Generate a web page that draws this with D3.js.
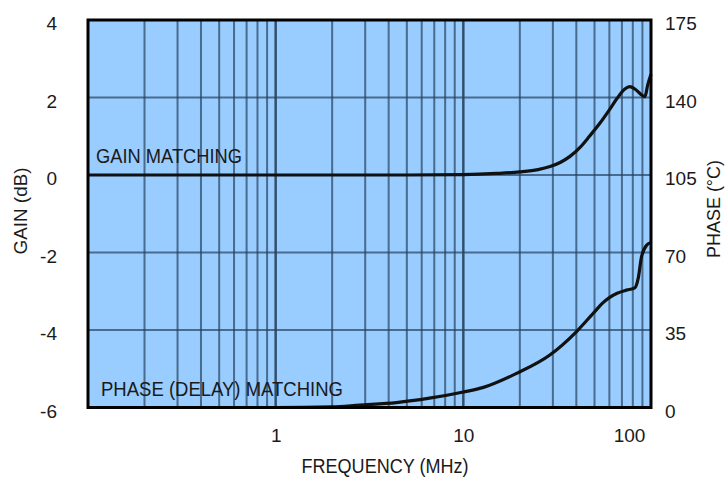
<!DOCTYPE html>
<html>
<head>
<meta charset="utf-8">
<script src="https://cdn.jsdelivr.net/npm/d3@7"></script>
<style>
  body { margin: 0; background: #fff; }
  text { font-family: "Liberation Sans", Arial, sans-serif; fill: #1a1a1a; }
</style>
</head>
<body>
<svg id="chart" width="727" height="478"></svg>
<script>
// values
const gainFreq = [0.1, 5, 10, 15, 20, 25, 29, 33, 37, 42, 47, 53.5, 60, 66, 72.5, 77, 82, 87.5, 92.8, 96, 100]
const gainDb   = [0, 0, 0.01, 0.04, 0.08, 0.14, 0.22, 0.33, 0.48, 0.72, 1.0, 1.34, 1.68, 1.98, 2.22, 2.28, 2.22, 2.1, 2.02, 2.32, 2.6]

const phaseFreq = [0.1, 1, 2, 2.8, 4.4, 6.6, 10, 12.8, 19.2, 28.9, 40, 51, 55, 60, 66, 74, 82, 85.5, 89, 95, 100]
const phaseDeg  = [0, 0, 0.3, 1.1, 2.2, 4.2, 7, 9.1, 15.4, 23.7, 34.2, 44, 47, 49.6, 51.6, 53, 54, 58.4, 68, 73.4, 74.5]

const gainTicks  = [-6, -4, -2, 0, 2, 4]
const phaseTicks = [0, 35, 70, 105, 140, 175]
const freqTicks  = [1, 10, 100]
const gainGrid   = [-4, -2, 0, 2]

let margin = {left: 88, top: 20, right: 76, bottom: 70.5}
let width = 727 - margin.left - margin.right
let height = 478 - margin.top - margin.bottom

let svg = d3.select('#chart')
let g = svg.append('g').attr('transform', 'translate(' + margin.left + ',' + margin.top + ')')

let x = d3.scaleLog().domain([0.1, 100]).range([0, width])
let yGain = d3.scaleLinear().domain([-6, 4]).range([height, 0])
let yPhase = d3.scaleLinear().domain([0, 175]).range([height, 0])

g.append('rect')
  .attr('width', width)
  .attr('height', height)
  .attr('fill', '#99ccff')

// vertical grid, 1..9 per decade
let vgrid = x.ticks().filter(d => d > 0.1 && d < 100)
g.selectAll('.vgrid')
  .data(vgrid)
  .enter().append('line')
  .attr('class', 'vgrid')
  .attr('x1', d => x(d)).attr('x2', d => x(d))
  .attr('y1', 0).attr('y2', height)
  .attr('stroke', '#27425c')
  .attr('stroke-opacity', d => (d === 1 || d === 10) ? 0.9 : 0.7)
  .attr('stroke-width', d => (d === 1 || d === 10) ? 2.5 : 2)

g.selectAll('.hgrid')
  .data(gainGrid)
  .enter().append('line')
  .attr('class', 'hgrid')
  .attr('x1', 0).attr('x2', width)
  .attr('y1', d => yGain(d)).attr('y2', d => yGain(d))
  .attr('stroke', '#27425c')
  .attr('stroke-opacity', 0.7)
  .attr('stroke-width', 2)

let gainLine = d3.line()
  .x((d, i) => x(gainFreq[i]))
  .y(d => yGain(d))
  .curve(d3.curveMonotoneX)

let phaseLine = d3.line()
  .x((d, i) => x(phaseFreq[i]))
  .y(d => yPhase(d))
  .curve(d3.curveMonotoneX)

g.append('path')
  .attr('d', gainLine(gainDb))
  .attr('fill', 'none')
  .attr('stroke', '#111')
  .attr('stroke-width', 3.2)

g.append('path')
  .attr('d', phaseLine(phaseDeg))
  .attr('fill', 'none')
  .attr('stroke', '#111')
  .attr('stroke-width', 3.2)

// frame
g.append('rect')
  .attr('width', width)
  .attr('height', height)
  .attr('fill', 'none')
  .attr('stroke', '#000')
  .attr('stroke-width', 3)

// axes (plain hyphen for negatives, as in the original)
let left = g.append('g')
  .call(d3.axisLeft(yGain).tickValues(gainTicks).tickFormat(d => String(d)).tickSize(0).tickPadding(31))
left.select('.domain').remove()
left.selectAll('text').attr('dy', '0.5em').style('font-size', '19px')

let right = g.append('g')
  .attr('transform', 'translate(' + width + ',0)')
  .call(d3.axisRight(yPhase).tickValues(phaseTicks).tickSize(0).tickPadding(14))
right.select('.domain').remove()
right.selectAll('text').attr('dy', '0.5em').style('font-size', '19px')

let bottom = g.append('g')
  .attr('transform', 'translate(0,' + height + ')')
  .call(d3.axisBottom(x).tickValues(freqTicks).tickFormat(d3.format('d')).tickSize(0).tickPadding(21))
bottom.select('.domain').remove()
bottom.selectAll('text').style('font-size', '19px')
  .attr('dx', d => d === 100 ? -22 : 0)

// titles
svg.append('text')
  .attr('x', 385).attr('y', 473)
  .attr('text-anchor', 'middle')
  .attr('textLength', 167)
  .attr('lengthAdjust', 'spacingAndGlyphs')
  .style('font-size', '20px')
  .text('FREQUENCY (MHz)')

svg.append('text')
  .attr('transform', 'translate(27,211) rotate(-90)')
  .attr('text-anchor', 'middle')
  .attr('textLength', 87)
  .attr('lengthAdjust', 'spacingAndGlyphs')
  .style('font-size', '19px')
  .text('GAIN (dB)')

svg.append('text')
  .attr('transform', 'translate(720,209) rotate(-90)')
  .attr('text-anchor', 'middle')
  .attr('textLength', 98)
  .attr('lengthAdjust', 'spacingAndGlyphs')
  .style('font-size', '19px')
  .text('PHASE (°C)')

// curve labels
svg.append('text')
  .attr('x', 96).attr('y', 163)
  .attr('textLength', 146)
  .attr('lengthAdjust', 'spacingAndGlyphs')
  .style('font-size', '21px')
  .text('GAIN MATCHING')

svg.append('text')
  .attr('x', 101).attr('y', 396)
  .attr('textLength', 242)
  .attr('lengthAdjust', 'spacingAndGlyphs')
  .style('font-size', '21px')
  .text('PHASE (DELAY) MATCHING')
</script>
</body>
</html>
